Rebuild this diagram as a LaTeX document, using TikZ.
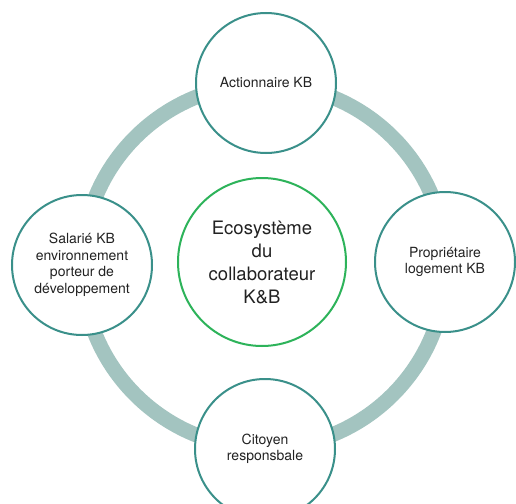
\documentclass[tikz,border=0pt]{standalone}
\usepackage{fontspec}
\setmainfont{TeX Gyre Heros}
\definecolor{ringc}{HTML}{A3C4C0}
\definecolor{tealc}{HTML}{3A908A}
\definecolor{greenc}{HTML}{2DB35A}
\definecolor{txt}{HTML}{222222}
\begin{document}
\begin{tikzpicture}[x=1pt,y=-1pt,
  outer/.style={circle,draw=tealc,line width=2pt,fill=white,minimum size=140pt,inner sep=0pt,
    align=center,text=txt,font=\fontsize{14}{16.5}\selectfont},
  inner/.style={circle,draw=greenc,line width=2pt,fill=white,minimum size=168pt,inner sep=0pt,
    align=center,text=txt,font=\fontsize{18.5}{23}\selectfont}]
\useasboundingbox (0,0) rectangle (516,503);
\coordinate (c) at (264,266);
\draw[ringc,line width=15pt] (c) circle[radius=182];
\node[inner] (center) at (262,262) {Ecosystème\\du\\collaborateur\\K\&B};
\node[outer] (top) at (266,83) {Actionnaire KB};
\node[outer] (left) at (82,265) {Salarié KB\\environnement\\porteur de\\développement};
\node[outer] (right) at (445,262) {Propriétaire\\logement KB};
\node[outer] (bottom) at (265,449) {Citoyen\\responsbale};
\end{tikzpicture}
\end{document}
